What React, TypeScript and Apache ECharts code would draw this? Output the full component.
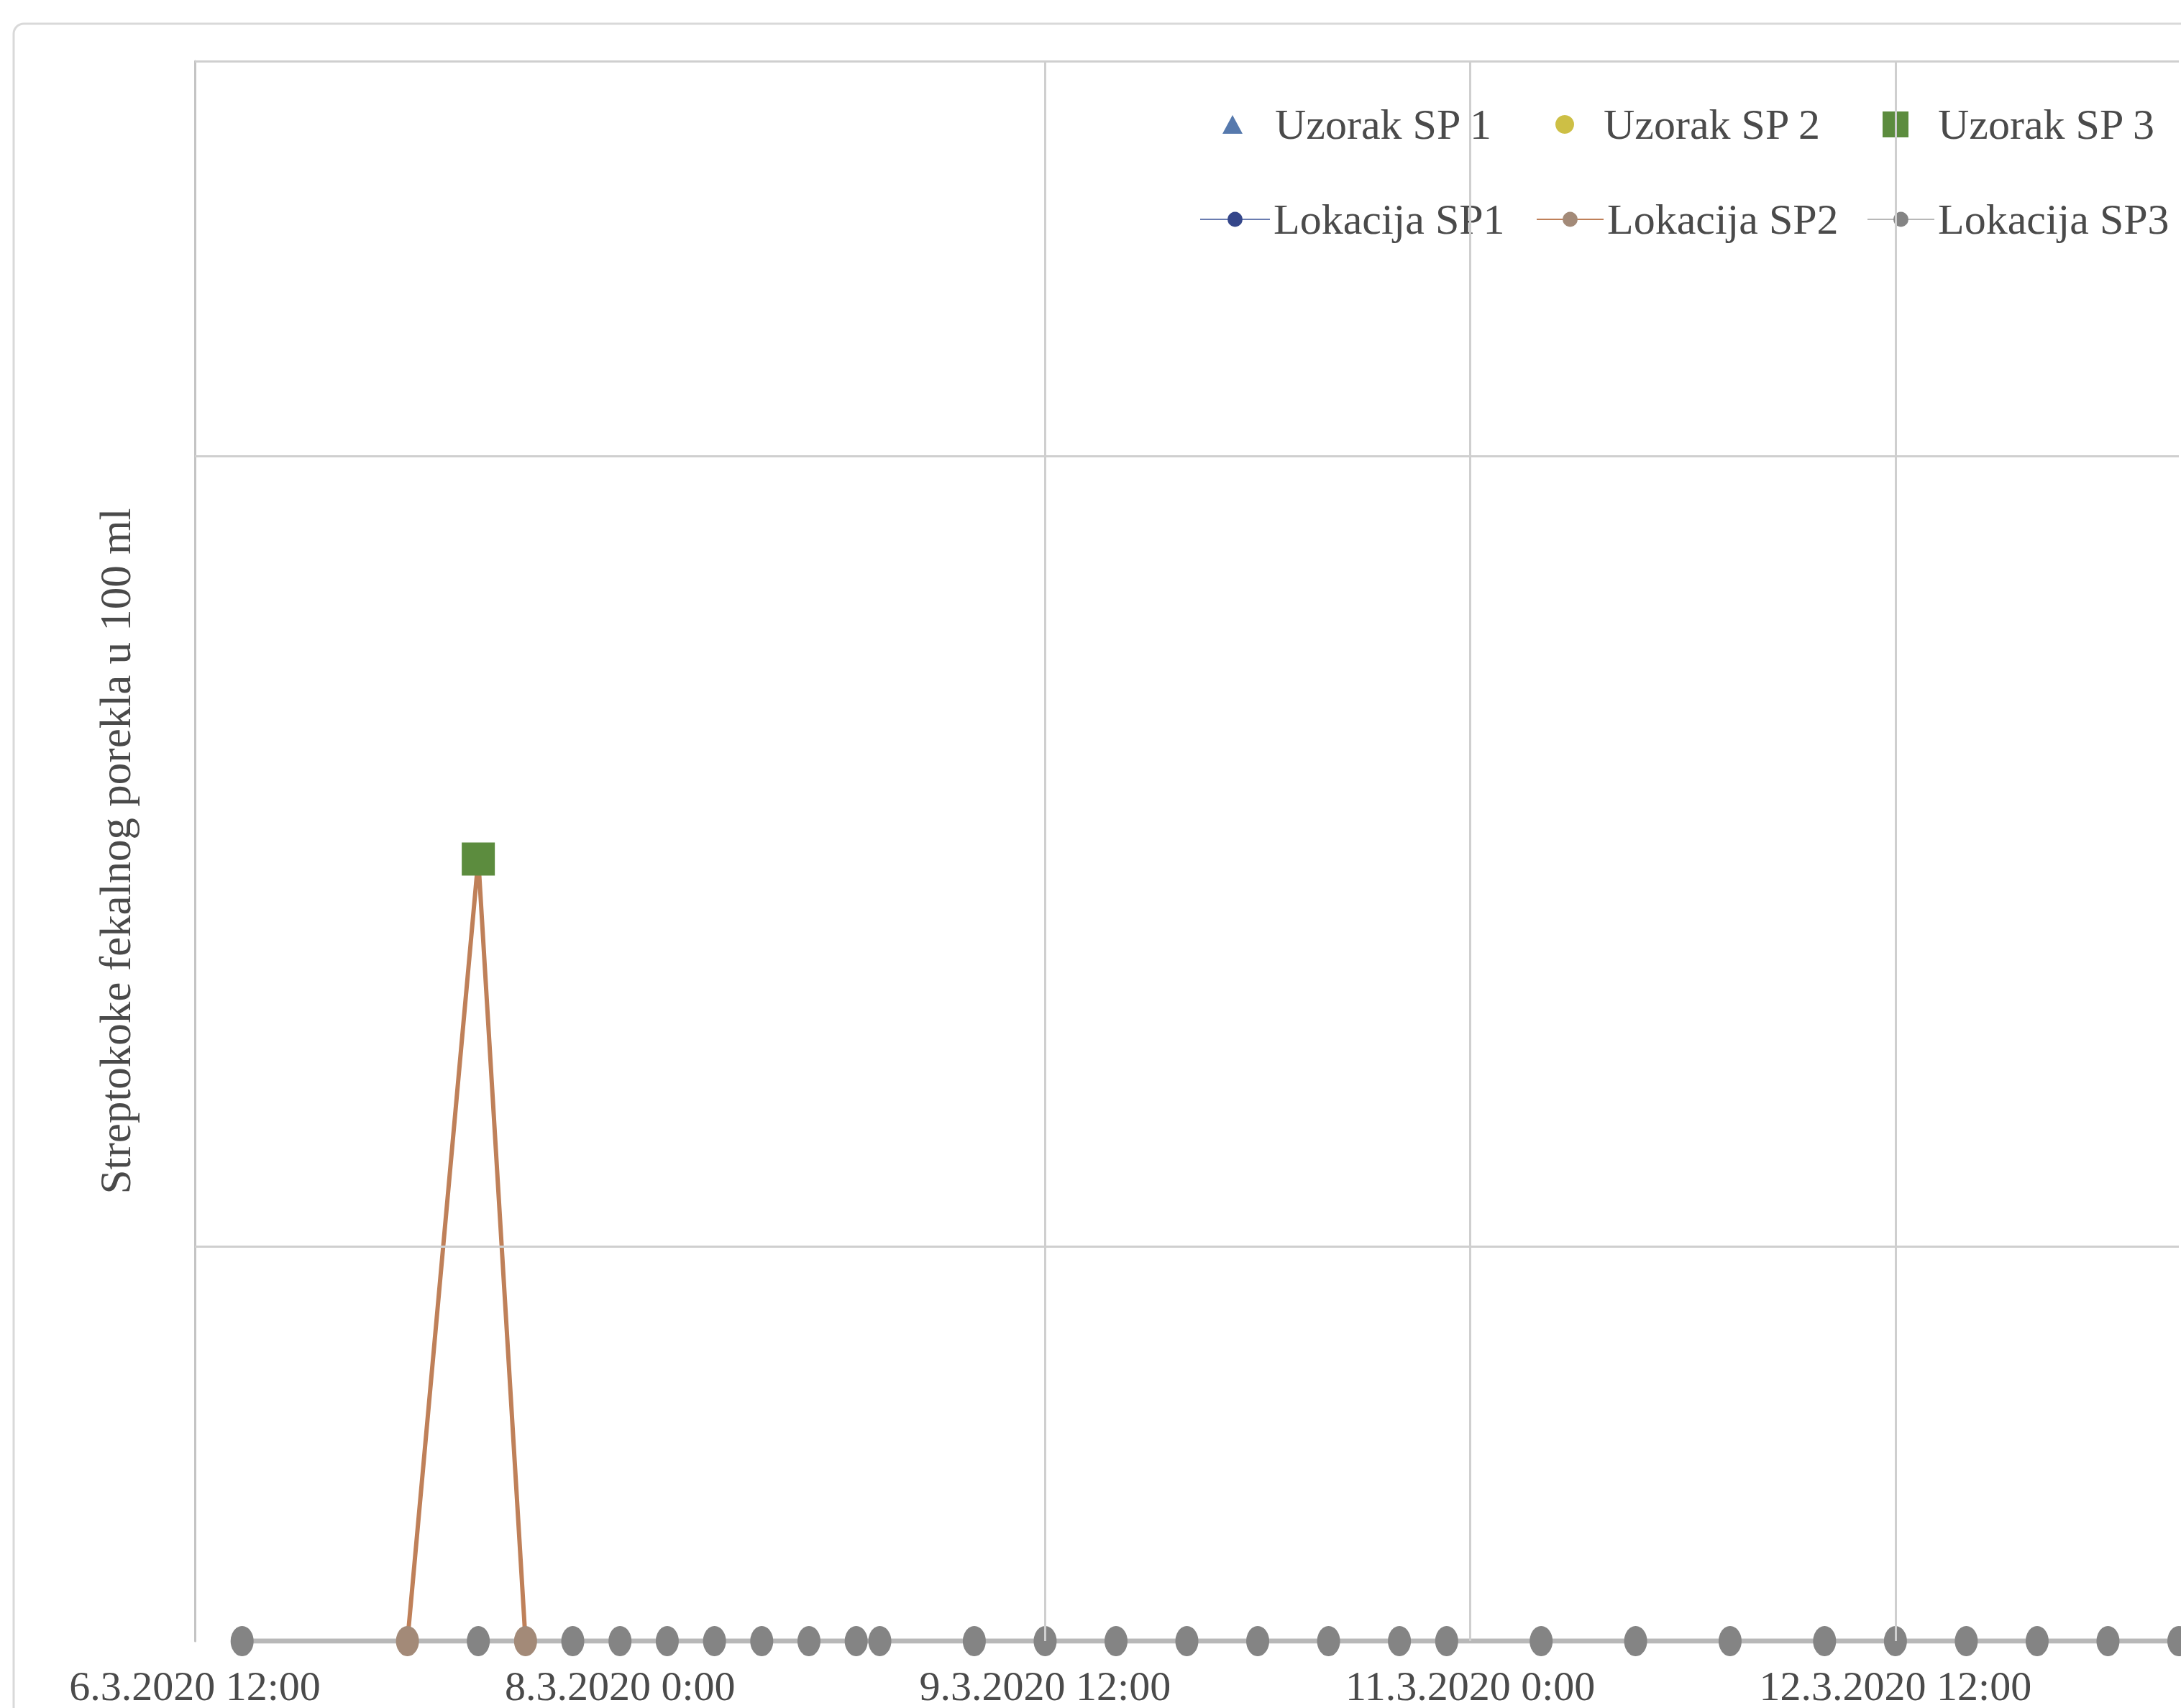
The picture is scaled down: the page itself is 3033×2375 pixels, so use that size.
import React, { useEffect, useRef } from "react";
import * as echarts from "echarts";

// x positions are sample times "d.m.yyyy h:mm"
const sp3Times = [
  "6.3.2020 16:00", "7.3.2020 12:00", "7.3.2020 20:00", "8.3.2020 0:00",
  "8.3.2020 4:00", "8.3.2020 8:00", "8.3.2020 12:00", "8.3.2020 16:00", "8.3.2020 20:00",
  "8.3.2020 22:00", "9.3.2020 6:00", "9.3.2020 12:00", "9.3.2020 18:00", "10.3.2020 0:00",
  "10.3.2020 6:00", "10.3.2020 12:00", "10.3.2020 18:00", "10.3.2020 22:00", "11.3.2020 6:00",
  "11.3.2020 14:00", "11.3.2020 22:00", "12.3.2020 6:00", "12.3.2020 12:00", "12.3.2020 18:00",
  "13.3.2020 0:00", "13.3.2020 6:00", "13.3.2020 12:00",
];
const sp3Values = [0, 0, 0, 0, 0, 0, 0, 0, 0, 0, 0, 0, 0, 0, 0, 0, 0, 0, 0, 0, 0, 0, 0, 0, 0, 0, 0];

const sp2Times = ["7.3.2020 6:00", "7.3.2020 12:00", "7.3.2020 16:00"];
const sp2Values = [0, 198, 0];

const sp1Times = sp3Times;
const sp1Values = sp3Values;

const uzorak1Times: string[] = [];
const uzorak1Values: number[] = [];
const uzorak2Times: string[] = [];
const uzorak2Values: number[] = [];
const uzorak3Times = ["7.3.2020 12:00"];
const uzorak3Values = [198];

const seriesNames = [
  "Uzorak SP 1", "Uzorak SP 2", "Uzorak SP 3",
  "Lokacija SP1", "Lokacija SP2", "Lokacija SP3",
];
const yAxisTitle = "Streptokoke fekalnog porekla u 100 ml";

const xStartLabel = "6.3.2020 12:00";
const xTickHours = 36;
const xMaxHours = 168;
const yMax = 400;
const yStep = 100;
const vGridHours = [72, 108, 144];
const hGridValues = [100, 300, 400];

function parseStamp(s: string) {
  const [d, t] = s.split(" ");
  const [dd, mm, yy] = d.split(".").map(Number);
  const [hh, mi] = t.split(":").map(Number);
  return Date.UTC(yy, mm - 1, dd, hh, mi);
}
const BASE = parseStamp(xStartLabel);
const toHours = (s: string) => (parseStamp(s) - BASE) / 3600000;
const fmt = (h: number) => {
  const dt = new Date(BASE + h * 3600000);
  return `${dt.getUTCDate()}.${dt.getUTCMonth() + 1}.${dt.getUTCFullYear()} ${dt.getUTCHours()}:${String(
    dt.getUTCMinutes()
  ).padStart(2, "0")}`;
};
const pairs = (ts: string[], vs: number[]) => ts.map((t, i) => [toHours(t), vs[i]]);

const FONT = "Liberation Serif";
const TXT = "#4a4a4a";

export default function App() {
  const ref = useRef<HTMLDivElement>(null);
  useEffect(() => {
    document.body.style.margin = "0";
    document.body.style.overflow = "hidden";
    const chart = echarts.init(ref.current!, null, { renderer: "svg" });
    const mkLegend = (
      name: string, left: number, top: number, w: number, h: number, padLeft: number, icon?: string
    ) => ({
      data: [icon ? { name, icon } : { name }],
      left,
      top,
      padding: 0,
      itemWidth: w,
      itemHeight: h,
      selectedMode: false,
      textStyle: { fontFamily: FONT, fontSize: 60, color: TXT, padding: [0, 0, 0, padLeft] },
    });
    chart.setOption({
      animation: false,
      backgroundColor: "#ffffff",
      graphic: [
        {
          type: "rect",
          z: -10,
          shape: { x: 19, y: 33, width: 3200, height: 2500, r: 14 },
          style: { fill: "none", stroke: "#d9d9d9", lineWidth: 3 },
        },
        {
          type: "rect",
          z: 3,
          shape: { x: 1655, y: 100, width: 1400, height: 278 },
          style: { fill: "#ffffff" },
        },
      ],
      legend: [
        mkLegend(seriesNames[0], 1700, 143, 28, 26, 40, "triangle"),
        mkLegend(seriesNames[1], 2163, 143, 26, 26, 36, "circle"),
        mkLegend(seriesNames[2], 2618, 143, 36, 36, 36, "rect"),
        mkLegend(seriesNames[3], 1668, 275, 97, 26, 0),
        mkLegend(seriesNames[4], 2136, 275, 93, 26, 0),
        mkLegend(seriesNames[5], 2596, 275, 93, 26, 0),
      ],
      grid: { left: 271, top: 85, bottom: 93, right: 0, containLabel: false },
      xAxis: {
        type: "value",
        min: 0,
        max: xMaxHours,
        interval: xTickHours,
        axisLine: { show: false },
        axisTick: { show: false },
        splitLine: { show: false },
        axisLabel: {
          margin: 33,
          fontFamily: FONT,
          fontSize: 58,
          color: TXT,
          formatter: (v: number) => (v % xTickHours === 0 ? fmt(v) : ""),
        },
      },
      yAxis: {
        type: "value",
        min: 0,
        max: yMax,
        interval: yStep,
        name: yAxisTitle,
        nameLocation: "middle",
        nameGap: 80,
        nameTextStyle: { fontFamily: FONT, fontSize: 61, color: TXT },
        axisLine: { show: true, lineStyle: { color: "#c4c4c4", width: 3 } },
        axisTick: { show: false },
        axisLabel: { show: false },
        splitLine: { show: false },
      },
      series: [
        {
          name: seriesNames[3],
          type: "line",
          data: pairs(sp1Times, sp1Values),
          symbol: "circle",
          symbolSize: 14,
          itemStyle: { color: "#34468a" },
          lineStyle: { color: "#6a7cb0", width: 3 },
          markLine: {
            silent: true,
            symbol: ["none", "none"],
            label: { show: false },
            lineStyle: { color: "#cfcfcf", width: 3, type: "solid" },
            data: [
              ...vGridHours.map((h) => ({ xAxis: h })),
              ...hGridValues.map((v) => ({ yAxis: v })),
            ],
          },
        },
        {
          name: seriesNames[5],
          type: "line",
          data: pairs(sp3Times, sp3Values),
          symbol: "circle",
          symbolSize: [32, 42],
          itemStyle: { color: "#848484" },
          lineStyle: { color: "#b8b8b8", width: 7 },
        },
        {
          name: seriesNames[4],
          type: "line",
          data: pairs(sp2Times, sp2Values),
          symbol: "circle",
          symbolSize: [32, 42],
          itemStyle: { color: "#a38a78" },
          lineStyle: { color: "#bf8059", width: 6 },
        },
        {
          name: seriesNames[0],
          type: "scatter",
          z: 5,
          data: pairs(uzorak1Times, uzorak1Values),
          symbol: "triangle",
          symbolSize: 30,
          itemStyle: { color: "#5679ad", opacity: 1 },
        },
        {
          name: seriesNames[1],
          type: "scatter",
          z: 5,
          data: pairs(uzorak2Times, uzorak2Values),
          symbol: "circle",
          symbolSize: 26,
          itemStyle: { color: "#cdbf45", opacity: 1 },
        },
        {
          name: seriesNames[2],
          type: "scatter",
          z: 5,
          data: pairs(uzorak3Times, uzorak3Values),
          symbol: "rect",
          symbolSize: 46,
          itemStyle: { color: "#5c8c3e", opacity: 1 },
        },
      ],
    });
    return () => chart.dispose();
  }, []);
  return <div ref={ref} style={{ width: 3033, height: 2375 }} />;
}
